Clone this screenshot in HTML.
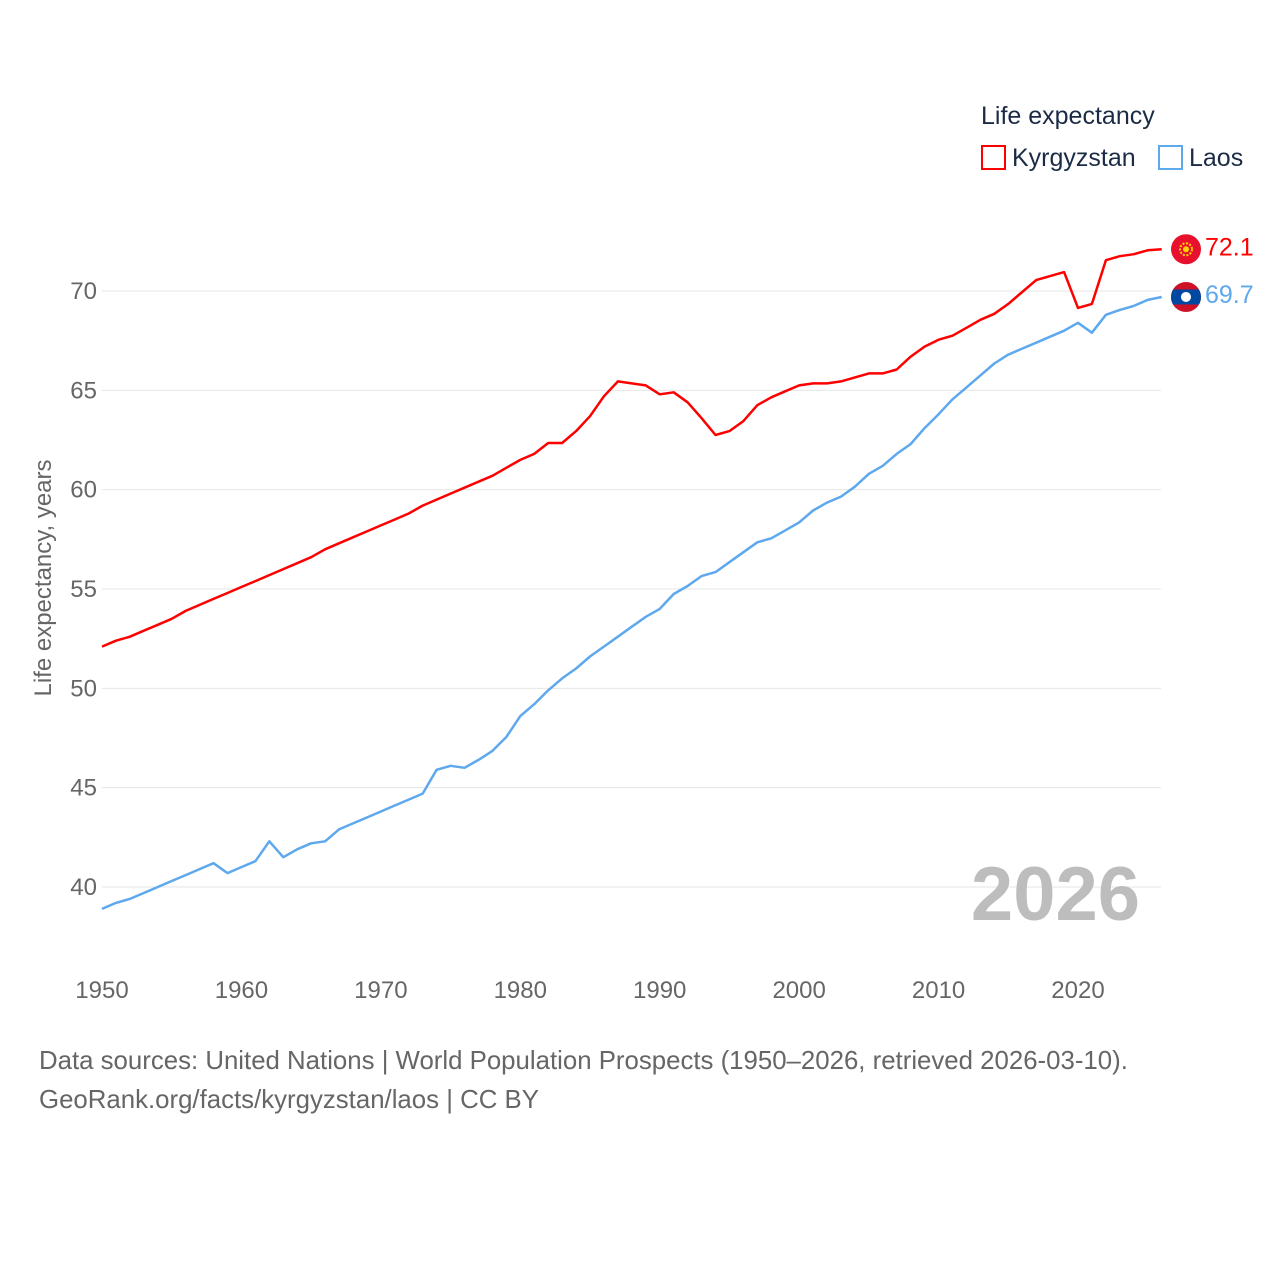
<!DOCTYPE html>
<html><head><meta charset="utf-8"><style>
body{margin:0;background:#fff;width:1280px;height:1280px;overflow:hidden;font-family:"Liberation Sans",sans-serif}
</style></head><body>
<svg id="chart" width="1280" height="1280" xmlns="http://www.w3.org/2000/svg" style="font-family:'Liberation Sans',sans-serif">
<g id="grid"></g>
<g id="yt"></g>
<g id="xt"></g>
<text transform="translate(51,578) rotate(-90)" text-anchor="middle" font-size="24" fill="#666">Life expectancy, years</text>
<text x="1140" y="920" text-anchor="end" font-size="76" font-weight="bold" fill="#bdbdbd">2026</text>
<g id="series"></g>
<g>
<text x="981" y="124" font-size="25" fill="#1c2b45">Life expectancy</text>
<g><rect x="982" y="146" width="23" height="23" fill="none" stroke="#f00" stroke-width="2"/><text x="1012" y="166" font-size="25" fill="#1c2b45">Kyrgyzstan</text></g>
<g><rect x="1159" y="146" width="23" height="23" fill="none" stroke="#5ea8ee" stroke-width="2"/><text x="1189" y="166" font-size="25" fill="#1c2b45">Laos</text></g>
</g>
<text x="39" y="1069" font-size="25.8" fill="#666">Data sources: United Nations | World Population Prospects (1950–2026, retrieved 2026-03-10).</text>
<text x="39" y="1108" font-size="25.8" fill="#666">GeoRank.org/facts/kyrgyzstan/laos | CC BY</text>
</svg>
<script>
const years=[];for(let y=1950;y<=2026;y++)years.push(y);
const kyrgyzstan=[52.1,52.4,52.6,52.9,53.2,53.5,53.9,54.2,54.5,54.8,55.1,55.4,55.7,56.0,56.3,56.6,57.0,57.3,57.6,57.9,58.2,58.5,58.8,59.2,59.5,59.8,60.1,60.4,60.7,61.1,61.5,61.8,62.35,62.35,62.95,63.7,64.7,65.45,65.35,65.25,64.8,64.9,64.4,63.6,62.75,62.95,63.45,64.25,64.65,64.95,65.25,65.35,65.35,65.45,65.65,65.85,65.85,66.05,66.7,67.2,67.55,67.75,68.15,68.55,68.85,69.35,69.95,70.55,70.75,70.95,69.15,69.35,71.55,71.75,71.85,72.05,72.1];
const laos=[38.9,39.2,39.4,39.7,40.0,40.3,40.6,40.9,41.2,40.7,41.0,41.3,42.3,41.5,41.9,42.2,42.3,42.9,43.2,43.5,43.8,44.1,44.4,44.7,45.9,46.1,46.0,46.4,46.85,47.55,48.6,49.2,49.9,50.5,51.0,51.6,52.1,52.6,53.1,53.6,54.0,54.75,55.15,55.65,55.85,56.35,56.85,57.35,57.55,57.95,58.35,58.95,59.35,59.65,60.15,60.8,61.2,61.8,62.3,63.1,63.8,64.55,65.15,65.75,66.35,66.8,67.1,67.4,67.7,68.0,68.4,67.9,68.8,69.05,69.25,69.55,69.7];
const yTicks=[40,45,50,55,60,65,70];
const xTicks=[1950,1960,1970,1980,1990,2000,2010,2020];
const NS="http://www.w3.org/2000/svg";
const X=y=>102+(y-1950)*(1078-102)/70;
const Y=v=>291+(70-v)*(887-291)/30;
function mk(t,a,p){const e=document.createElementNS(NS,t);for(const k in a)e.setAttribute(k,a[k]);p.appendChild(e);return e;}
const grid=document.getElementById('grid'),yt=document.getElementById('yt'),xt=document.getElementById('xt'),ser=document.getElementById('series');
yTicks.forEach(v=>{
 const l=mk('line',{x1:102,x2:1161,y1:Y(v),y2:Y(v),stroke:'#e6e6e6','stroke-width':1},grid);
 
 
 const t=mk('text',{x:97,y:Y(v)+8,'text-anchor':'end','font-size':24,fill:'#666'},yt);t.textContent=v;
 
 
});
xTicks.forEach(v=>{
 const t=mk('text',{x:X(v),y:998,'text-anchor':'middle','font-size':24,fill:'#666'},xt);t.textContent=v;
 
 
});
function line(vals,col,name){
 const p=mk('path',{d:vals.map((v,i)=>(i?'L':'M')+X(years[i]).toFixed(1)+' '+Y(v).toFixed(1)).join(''),fill:'none',stroke:col,'stroke-width':2.5,'stroke-linejoin':'round'},ser);
 
 
}
line(kyrgyzstan,'#ff0000','kyrgyzstan');
line(laos,'#5ea8ee','laos');
const ky=Y(kyrgyzstan[kyrgyzstan.length-1]),ly=Y(laos[laos.length-1]),fx=1186;
const kf=mk('g',{},ser);


mk('circle',{cx:fx,cy:ky,r:15,fill:'#e8112d'},kf);
mk('circle',{cx:fx,cy:ky,r:6,fill:'none',stroke:'#ffd200','stroke-width':2,'stroke-dasharray':'2 1.5'},kf);
mk('circle',{cx:fx,cy:ky,r:3,fill:'#ffd200'},kf);
const lf=mk('g',{},ser);


mk('clipPath',{id:'lc'},lf);
mk('circle',{cx:fx,cy:ly,r:15},lf.lastChild);
mk('rect',{x:fx-15,y:ly-15,width:30,height:30,fill:'#ce1126','clip-path':'url(#lc)'},lf);
mk('rect',{x:fx-15,y:ly-7.5,width:30,height:15,fill:'#0048a0','clip-path':'url(#lc)'},lf);
mk('circle',{cx:fx,cy:ly,r:5,fill:'#fff'},lf);
const kt=mk('text',{x:1205,y:ky+6,'font-size':25,fill:'#ff0000'},ser);kt.textContent=kyrgyzstan[kyrgyzstan.length-1].toFixed(1);


const lt=mk('text',{x:1205,y:ly+6,'font-size':25,fill:'#5ea8ee'},ser);lt.textContent=laos[laos.length-1].toFixed(1);


</script>
</body></html>
